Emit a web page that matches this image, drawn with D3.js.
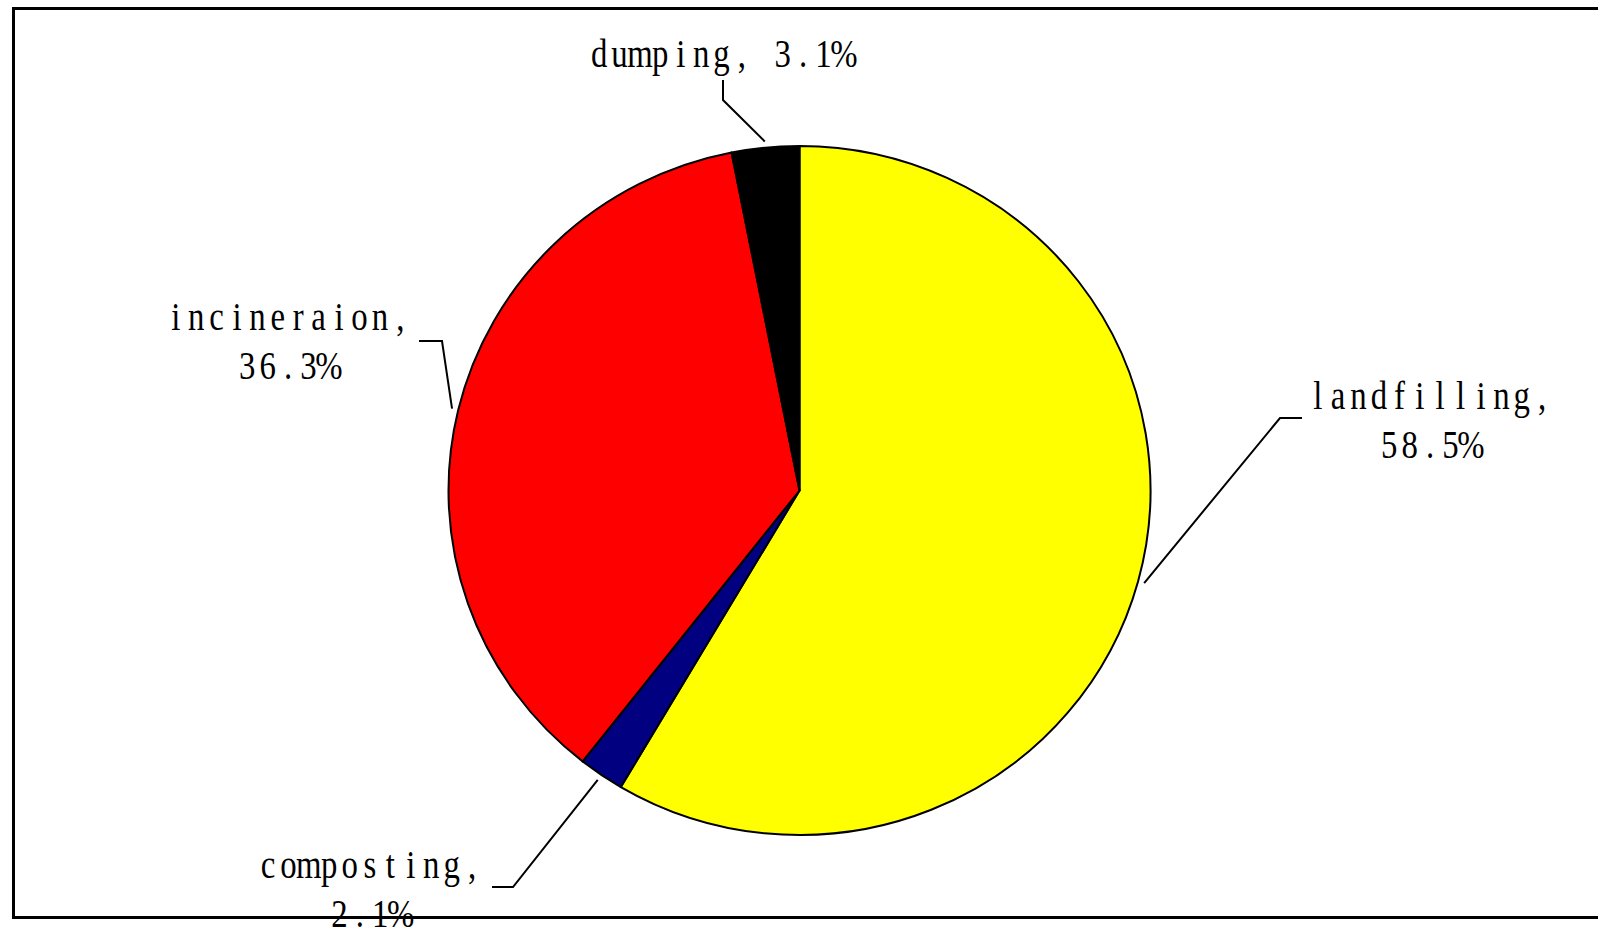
<!DOCTYPE html>
<html>
<head>
<meta charset="utf-8">
<script src="https://cdn.jsdelivr.net/npm/d3@7"></script>
<style>
  html, body { margin: 0; padding: 0; background: #fff; }
  svg { display: block; }
</style>
</head>
<body>
<svg id="chart" width="1598" height="930"></svg>
<script>
// ---- data ----
const categories = ["landfilling", "composting", "incineraion", "dumping"];
const values = [58.5, 2.1, 36.3, 3.1];
const colors = ["#FFFF00", "#000080", "#FF0000", "#000000"];

// ---- layout ----
const W = 1598, H = 930;
const cx = 799.5, cy = 490.5, rx = 351, ry = 344.5;
const cell = 20.4;           // monospace cell width of label text
const lineGap = 49.5;
const fontSize = 41;
const squeeze = 0.8;         // horizontal condensing of glyphs
// label layout: [text center x, first baseline y], leader elbow and end points
const labelLayout = [
  { tx: 1430, ty: 409, lines: d => [d.cat + ",", d.pct], elbow: [1280, 418], end: [1302, 418] },
  { tx: 370, ty: 878, lines: d => [d.cat + ",", d.pct], elbow: [513, 887], end: [492, 887] },
  { tx: 288, ty: 330, lines: d => [d.cat + ",", d.pct], elbow: [442, 341], end: [419, 341] },
  { tx: 721.5, ty: 67, lines: d => [d.cat + ", " + d.pct], elbow: [723, 100], end: [723, 80] }
];

const svg = d3.select("#chart");

// frame
svg.append("rect")
  .attr("x", 13.5).attr("y", 8.5)
  .attr("width", 1600).attr("height", 909)
  .attr("fill", "none").attr("stroke", "#000").attr("stroke-width", 3);

const pie = d3.pie().sort(null).value(d => d)(values);
const arc = d3.arc().innerRadius(0).outerRadius(rx);

const g = svg.append("g")
  .attr("transform", `translate(${cx},${cy}) scale(1,${ry / rx})`);

g.selectAll("path.slice")
  .data(pie)
  .enter().append("path")
  .attr("class", "slice")
  .attr("d", arc)
  .attr("fill", (d, i) => colors[i])
  .attr("stroke", "#000")
  .attr("stroke-width", 2)
  .attr("vector-effect", "non-scaling-stroke")
  .attr("stroke-linejoin", "round");

const fmt = d3.format(".1f");

pie.forEach((p, i) => {
  const L = labelLayout[i];
  const mid = (p.startAngle + p.endAngle) / 2;
  const k = 1.018;
  const ax = cx + Math.sin(mid) * rx * k;
  const ay = cy - Math.cos(mid) * ry * k;
  svg.append("path")
    .attr("d", d3.line()([[ax, ay], L.elbow, L.end]))
    .attr("fill", "none")
    .attr("stroke", "#000")
    .attr("stroke-width", 2);

  const d = { cat: categories[i], pct: fmt(values[i]) + "%" };
  L.lines(d).forEach((str, j) => {
    const chars = Array.from(str);
    const start = L.tx - chars.length * cell / 2;
    const xs = chars.map((c, m) => ((start + (m + 0.5) * cell) / squeeze).toFixed(1));
    svg.append("text")
      .attr("transform", `scale(${squeeze},1)`)
      .attr("x", xs.join(" "))
      .attr("y", L.ty + j * lineGap)
      .attr("text-anchor", "middle")
      .attr("font-family", "'Liberation Serif', 'DejaVu Serif', serif")
      .attr("font-size", fontSize)
      .attr("fill", "#000")
      .text(str);
  });
});
</script>
</body>
</html>
